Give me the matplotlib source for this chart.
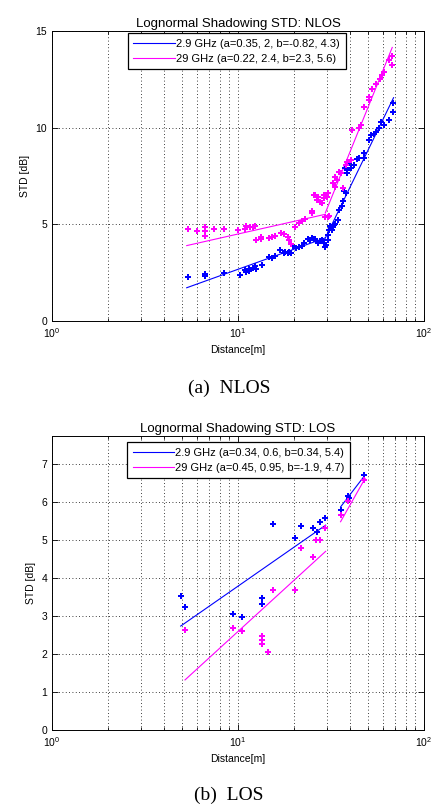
import matplotlib
matplotlib.use("Agg")
import matplotlib.pyplot as plt
import numpy as np
from matplotlib.ticker import LogLocator, NullFormatter, FixedLocator

# ---------------- DATA ----------------
# NLOS 2.9 GHz measured STD
nlos_29_d = [5.39, 6.63, 6.63, 8.4, 10.2, 10.9, 11.0, 11.4, 11.4, 12.0, 12.3, 12.5, 13.4, 14.6, 15.2,
             15.8, 16.9, 17.6, 18.0, 18.5, 18.9, 19.2, 19.8, 20.5, 21.2, 22.0, 22.5, 23.9, 24.5, 25.0,
             25.6, 26.0, 26.4, 26.8, 27.5, 28.2, 28.9, 29.5, 29.9, 30.4, 30.6, 31.0, 31.4, 32.0, 32.6,
             33.0, 33.4, 34.4, 34.9, 36.3, 36.6, 37.1, 37.9, 37.8, 38.6, 38.6, 39.5, 40.3, 42.0, 43.4,
             44.5, 47.7, 47.7, 50.8, 51.6, 53.9, 55.5, 57.1, 59.0, 61.0, 64.9, 68.5, 68.5]
nlos_29_std = [2.26, 2.43, 2.31, 2.46, 2.40, 2.62, 2.53, 2.60, 2.69, 2.74, 2.82, 2.70, 2.91, 3.31, 3.26,
               3.34, 3.69, 3.52, 3.55, 3.50, 3.55, 3.52, 3.86, 3.80, 3.82, 3.86, 4.02, 4.24, 4.20, 4.28,
               4.22, 4.25, 4.15, 4.05, 4.15, 4.20, 4.06, 3.85, 3.94, 4.17, 4.46, 4.72, 4.89, 4.70, 4.85,
               4.95, 5.03, 5.23, 5.75, 5.95, 6.20, 6.72, 6.61, 7.93, 7.81, 7.64, 8.16, 7.90, 8.07, 8.36,
               8.45, 8.67, 8.41, 9.36, 9.61, 9.66, 9.80, 10.00, 10.30, 10.13, 10.39, 10.82, 11.28]
# NLOS 29 GHz measured STD
nlos_290_d = [5.39, 6.03, 6.63, 6.63, 6.63, 7.45, 8.37, 10.0, 10.9, 11.0, 11.6, 12.1, 12.4, 12.5, 13.3,
              13.3, 14.6, 15.3, 15.8, 17.0, 17.6, 18.5, 18.9, 19.2, 20.2, 21.3, 22.0, 23.0, 25.0, 25.0,
              25.5, 26.0, 26.7, 27.0, 27.6, 28.3, 29.0, 29.0, 29.5, 30.1, 30.4, 30.4, 31.0, 32.6, 33.4,
              33.4, 34.0, 35.0, 35.6, 36.5, 37.9, 38.5, 40.3, 40.8, 44.6, 45.6, 47.5, 50.8, 50.8, 52.3,
              55.0, 57.7, 59.6, 61.0, 64.9, 67.7, 67.7]
nlos_290_std = [4.78, 4.65, 4.84, 4.63, 4.42, 4.75, 4.78, 4.69, 4.77, 4.92, 4.85, 4.84, 4.92, 4.20, 4.24,
                4.34, 4.29, 4.34, 4.41, 4.55, 4.50, 4.32, 4.17, 4.00, 4.85, 5.06, 5.17, 5.26, 5.58, 5.71,
                6.50, 6.52, 6.26, 6.40, 6.18, 6.10, 6.35, 6.52, 5.40, 6.43, 6.64, 5.38, 5.45, 7.12, 7.46,
                6.95, 7.30, 7.72, 7.64, 6.87, 8.07, 8.20, 8.32, 9.90, 10.00, 10.13, 11.07, 11.59, 11.42, 12.00,
                12.28, 12.50, 12.70, 12.88, 13.48, 13.69, 13.22]
# NLOS fitted lines (segment end points)
nlos_fit_29_seg1_d = [5.3, 29.5]
nlos_fit_29_seg1_std = [1.72, 4.30]
nlos_fit_29_seg2_d = [29.5, 68.6]
nlos_fit_29_seg2_std = [4.30, 11.55]
nlos_fit_290_seg1_d = [5.3, 29.5]
nlos_fit_290_seg1_std = [3.90, 5.52]
nlos_fit_290_seg2_d = [29.5, 67.5]
nlos_fit_290_seg2_std = [5.60, 14.15]

# LOS 2.9 GHz measured STD
los_29_d = [4.92, 5.19, 9.4, 10.55, 13.5, 13.5, 15.4, 20.3, 21.7, 25.4, 26.5, 27.6, 29.4, 35.6, 39.2, 39.5, 47.8]
los_29_std = [3.54, 3.24, 3.06, 2.98, 3.48, 3.33, 5.42, 5.06, 5.37, 5.33, 5.23, 5.49, 5.58, 5.80, 6.17, 6.12, 6.73]
# LOS 29 GHz measured STD
los_290_d = [5.19, 9.4, 10.55, 13.5, 13.5, 13.5, 14.5, 15.4, 20.3, 21.7, 25.4, 26.2, 27.6, 29.4, 35.6, 39.2, 47.8]
los_290_std = [2.63, 2.70, 2.62, 2.49, 2.37, 2.27, 2.06, 3.70, 3.68, 4.80, 4.56, 5.00, 5.00, 5.33, 5.66, 6.04, 6.60]
# LOS fitted lines
los_fit_29_seg1_d = [4.92, 29.6]
los_fit_29_seg1_std = [2.74, 5.40]
los_fit_29_seg2_d = [35.6, 48.2]
los_fit_29_seg2_std = [5.88, 6.72]
los_fit_290_seg1_d = [5.19, 29.6]
los_fit_290_seg1_std = [1.32, 4.71]
los_fit_290_seg2_d = [35.6, 48.2]
los_fit_290_seg2_std = [5.49, 6.63]

legend_nlos = ["2.9 GHz (a=0.35, 2, b=-0.82, 4.3)", "29 GHz (a=0.22, 2.4, b=2.3, 5.6)"]
legend_los = ["2.9 GHz (a=0.34, 0.6, b=0.34, 5.4)", "29 GHz (a=0.45, 0.95, b=-1.9, 4.7)"]

# ---------------- STYLE ----------------
BLUE = "#0000ff"
MAG = "#ff00ff"
plt.rcParams['font.family'] = ['Liberation Sans', 'DejaVu Sans']
plt.rcParams['mathtext.fontset'] = 'custom'
plt.rcParams['mathtext.rm'] = 'Liberation Sans'
plt.rcParams['mathtext.it'] = 'Liberation Sans'

fig = plt.figure(figsize=(4.37, 8.10), dpi=100)
W, H = 437.0, 810.0


def make_axes(left, top, right, bottom):
    return fig.add_axes([left / W, 1 - bottom / H, (right - left) / W, (bottom - top) / H])


def style_axes(ax, ymax, yticks, title):
    ax.set_xscale('log')
    ax.set_xlim(1, 100)
    ax.set_ylim(0, ymax)
    ax.yaxis.set_major_locator(FixedLocator(yticks))
    ax.set_yticklabels([str(t) for t in yticks])
    ax.xaxis.set_major_locator(FixedLocator([1, 10, 100]))
    ax.set_xticklabels([r'$10^0$', r'$10^1$', r'$10^2$'])
    ax.xaxis.set_minor_locator(LogLocator(base=10, subs=np.arange(2, 10)))
    ax.xaxis.set_minor_formatter(NullFormatter())
    ax.tick_params(which='both', direction='in', top=True, right=True, labelsize=7.5, colors='black',
                   width=0.6)
    ax.tick_params(which='major', length=4)
    ax.tick_params(which='minor', length=2)
    ax.grid(True, which='major', axis='both', linestyle=(0, (1, 3)), color='black', linewidth=0.6)
    ax.grid(True, which='minor', axis='x', linestyle=(0, (1, 3)), color='black', linewidth=0.6)
    for s in ax.spines.values():
        s.set_linewidth(0.7)
    ax.set_title(title, fontsize=9.5, pad=3)
    ax.set_xlabel('Distance[m]', fontsize=7.5, labelpad=4)
    ax.set_ylabel('STD [dB]', fontsize=7.5, labelpad=4)


def add_legend(ax, handles, labels, anchor):
    leg = ax.legend(handles, labels, loc='upper left', bbox_to_anchor=anchor,
                    fontsize=8, frameon=True, fancybox=False, edgecolor='black', framealpha=1,
                    handlelength=3.7, borderpad=0.5, labelspacing=0.45, handletextpad=0.15,
                    borderaxespad=0.0)
    leg.get_frame().set_linewidth(0.9)
    return leg


# ---------------- NLOS ----------------
ax1 = make_axes(52, 31, 424, 321)
l1, = ax1.plot(nlos_fit_29_seg1_d, nlos_fit_29_seg1_std, color=BLUE, lw=0.8)
ax1.plot(nlos_fit_29_seg2_d, nlos_fit_29_seg2_std, color=BLUE, lw=0.8)
l2, = ax1.plot(nlos_fit_290_seg1_d, nlos_fit_290_seg1_std, color=MAG, lw=0.8)
ax1.plot(nlos_fit_290_seg2_d, nlos_fit_290_seg2_std, color=MAG, lw=0.8)
ax1.plot(nlos_29_d, nlos_29_std, linestyle='none', marker='P', ms=4.3, color=BLUE, mew=0)
ax1.plot(nlos_290_d, nlos_290_std, linestyle='none', marker='P', ms=4.3, color=MAG, mew=0)
style_axes(ax1, 15, [0, 5, 10, 15], 'Lognormal Shadowing STD: NLOS')
add_legend(ax1, [l1, l2], legend_nlos, (0.204, 0.992))

# ---------------- LOS ----------------
ax2 = make_axes(52, 436, 424, 730)
l3, = ax2.plot(los_fit_29_seg1_d, los_fit_29_seg1_std, color=BLUE, lw=0.8)
ax2.plot(los_fit_29_seg2_d, los_fit_29_seg2_std, color=BLUE, lw=0.8)
l4, = ax2.plot(los_fit_290_seg1_d, los_fit_290_seg1_std, color=MAG, lw=0.8)
ax2.plot(los_fit_290_seg2_d, los_fit_290_seg2_std, color=MAG, lw=0.8)
ax2.plot(los_29_d, los_29_std, linestyle='none', marker='P', ms=4.3, color=BLUE, mew=0)
ax2.plot(los_290_d, los_290_std, linestyle='none', marker='P', ms=4.3, color=MAG, mew=0)
style_axes(ax2, 7.75, [0, 1, 2, 3, 4, 5, 6, 7], 'Lognormal Shadowing STD: LOS')
add_legend(ax2, [l3, l4], legend_los, (0.202, 0.979))

# ---------------- captions ----------------
fig.text(229 / W, 1 - 388 / H, '(a)  NLOS', ha='center', va='center', fontsize=14,
         family=['Liberation Serif', 'DejaVu Serif'])
fig.text(229 / W, 1 - 795 / H, '(b)  LOS', ha='center', va='center', fontsize=14,
         family=['Liberation Serif', 'DejaVu Serif'])

fig.savefig('out.png', dpi=100)
